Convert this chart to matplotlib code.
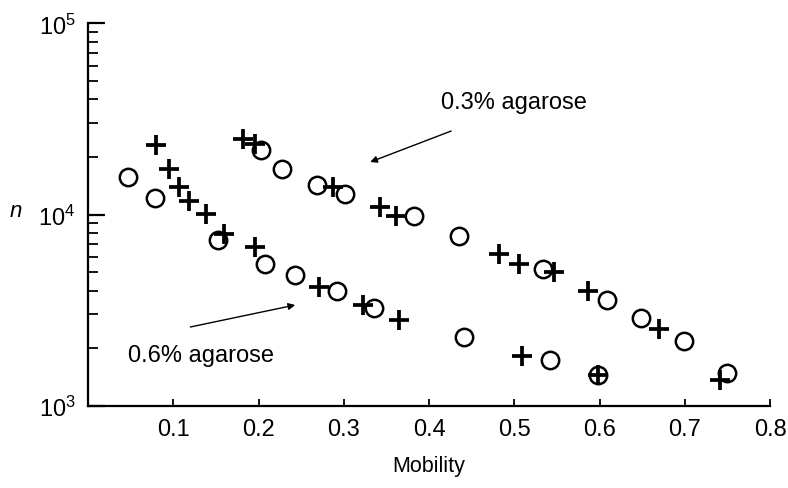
import matplotlib
matplotlib.use("Agg")
import matplotlib.pyplot as plt
from matplotlib.ticker import LogLocator, FixedLocator, NullFormatter

plt.rcParams["font.family"] = ["Liberation Sans", "DejaVu Sans"]
plt.rcParams["mathtext.fontset"] = "custom"
plt.rcParams["mathtext.rm"] = "Liberation Sans"
plt.rcParams["mathtext.it"] = "Liberation Sans:italic"

# 0.3% agarose gel
mob_03_cross = [0.182, 0.196, 0.287, 0.343, 0.361, 0.482, 0.506, 0.547, 0.587, 0.670, 0.741]
n_03_cross = [24800, 23400, 13900, 11000, 9800, 6200, 5500, 4980, 4000, 2520, 1370]
mob_03_circle = [0.203, 0.228, 0.269, 0.302, 0.382, 0.435, 0.534, 0.609, 0.649, 0.699, 0.750]
n_03_circle = [21700, 17300, 14300, 12800, 9860, 7750, 5190, 3560, 2890, 2190, 1490]

# 0.6% agarose gel
mob_06_cross = [0.080, 0.095, 0.107, 0.118, 0.138, 0.159, 0.196, 0.271, 0.322, 0.365, 0.509, 0.598]
n_06_cross = [23100, 17400, 13900, 11800, 10100, 7900, 6740, 4190, 3380, 2800, 1830, 1440]
mob_06_circle = [0.047, 0.079, 0.152, 0.208, 0.243, 0.292, 0.336, 0.441, 0.542, 0.598]
n_06_circle = [15650, 12150, 7400, 5540, 4830, 4000, 3240, 2280, 1730, 1440]

x_ticks = [0.1, 0.2, 0.3, 0.4, 0.5, 0.6, 0.7, 0.8]
x_tick_labels = ["0.1", "0.2", "0.3", "0.4", "0.5", "0.6", "0.7", "0.8"]


def n_at(py):
    # vertical pixel position -> value on the log axis (10^5 at top, 10^3 at bottom)
    return 10 ** (5 - (py - 24.3) / 191.2)


fig = plt.figure(figsize=(7.88, 4.89), dpi=100)
ax = fig.add_axes([0.1117, 0.1683, 0.8655, 0.782])

circle_kw = dict(linestyle="none", marker="o", markersize=12.5, markerfacecolor="none",
                 markeredgecolor="black", markeredgewidth=1.8)
cross_kw = dict(linestyle="none", marker="+", markersize=14.5, markeredgecolor="black",
                markeredgewidth=2.7)

ax.plot(mob_03_circle, n_03_circle, **circle_kw)
ax.plot(mob_06_circle, n_06_circle, **circle_kw)
ax.plot(mob_03_cross, n_03_cross, **cross_kw)
ax.plot(mob_06_cross, n_06_cross, **cross_kw)

ax.set_yscale("log")
ax.set_xlim(0, 0.8)
ax.set_ylim(1e3, 1e5)

for side in ("top", "right"):
    ax.spines[side].set_visible(False)
for side in ("left", "bottom"):
    ax.spines[side].set_linewidth(1.6)

ax.xaxis.set_major_locator(FixedLocator(x_ticks))
ax.set_xticklabels(x_tick_labels)
ax.tick_params(axis="x", direction="in", length=5, width=1.3, pad=9, labelsize=17)
ax.yaxis.set_major_locator(LogLocator(base=10, numticks=5))
ax.yaxis.set_minor_locator(LogLocator(base=10, subs=range(2, 10), numticks=20))
ax.yaxis.set_minor_formatter(NullFormatter())
ax.tick_params(axis="y", which="major", direction="in", length=12, width=1.6, pad=9, labelsize=17)
ax.tick_params(axis="y", which="minor", direction="in", length=7, width=1.3)

ax.set_xlabel("Mobility", fontsize=15.5, labelpad=11)
fig.text(16 / 788, 1 - 212 / 489, "n", fontsize=16, style="italic", ha="center", va="center")

arrow_kw = dict(arrowstyle="-|>", color="black", lw=1.0, mutation_scale=10, shrinkA=0, shrinkB=0)
ax.annotate("", xy=(0.331, n_at(163)), xytext=(0.426, n_at(132)), arrowprops=arrow_kw)
ax.text(0.5, n_at(103), "0.3% agarose", fontsize=17, ha="center", va="center")

ax.annotate("", xy=(0.243, n_at(306)), xytext=(0.120, n_at(328)), arrowprops=arrow_kw)
ax.text(0.133, n_at(356), "0.6% agarose", fontsize=17, ha="center", va="center")

fig.savefig("out.png", dpi=100)
